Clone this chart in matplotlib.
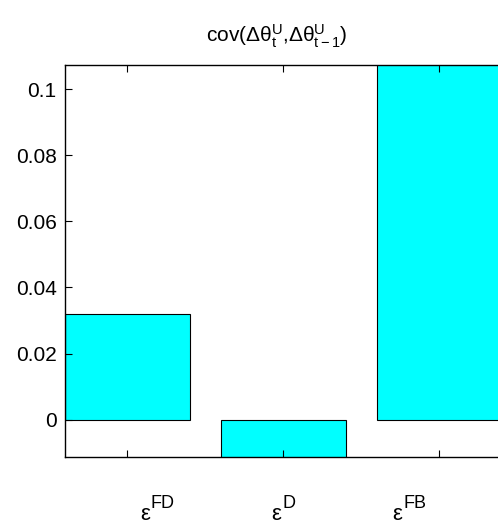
import matplotlib
matplotlib.use("Agg")
import matplotlib.pyplot as plt

plt.rcParams['font.family'] = ['Liberation Sans', 'DejaVu Sans']
plt.rcParams['mathtext.fontset'] = 'custom'
plt.rcParams['mathtext.rm'] = 'Liberation Sans'
plt.rcParams['mathtext.it'] = 'Liberation Sans'
plt.rcParams['mathtext.bf'] = 'Liberation Sans:bold'

label_base = 'ε'
label_sups = ['FD', 'D', 'FB']
positions = [1, 2, 3]
values = [0.032, -0.016, 0.125]
label_x = [1.192, 2.0, 2.808]
yticks = [0, 0.02, 0.04, 0.06, 0.08, 0.1]
ytick_labels = ['0', '0.02', '0.04', '0.06', '0.08', '0.1']

fig = plt.figure(figsize=(4.98, 5.23), dpi=100)
ax_w_px = 1.02 * 498 - 65
ax = fig.add_axes([65/498, 66/523, ax_w_px/498, 392/523])

ax.bar(positions, values, width=0.8, color='#00FFFF', edgecolor='black', linewidth=0.8)
ax.set_xlim(0.6, 0.6 + ax_w_px/156)
ax.set_ylim(-0.0113, 0.1073)
ax.set_xticks(positions)
ax.set_xticklabels([])
ax.set_yticks(yticks)
ax.set_yticklabels(ytick_labels, fontsize=15)
ax.tick_params(direction='in', length=5, width=0.8, top=True, right=True, pad=6)
for s in ax.spines.values():
    s.set_linewidth(1.0)

ax.set_title(r'cov($\mathregular{\Delta\theta_t^U{,}\Delta\theta_{t-1}^U}$)', fontsize=15, pad=16,
             x=(277 - 65) / ax_w_px)

# category labels: base letter with a raised superscript, centred as a group
fig.canvas.draw()
renderer = fig.canvas.get_renderer()
px2pt = 72.0 / fig.dpi
label_y = -62.5 / 392
for x, sup in zip(label_x, label_sups):
    tb = ax.annotate(label_base, xy=(x, label_y), xycoords=ax.get_xaxis_transform(),
                     fontsize=16, ha='left', va='baseline', textcoords='offset points', xytext=(0, 0))
    ts = ax.annotate(sup, xy=(x, label_y), xycoords=ax.get_xaxis_transform(),
                     fontsize=13, ha='left', va='baseline', textcoords='offset points', xytext=(0, 0))
    wb = tb.get_window_extent(renderer).width
    ws = ts.get_window_extent(renderer).width
    total = wb + ws + 1
    tb.set_position((-total / 2 * px2pt, 0))
    ts.set_position(((-total / 2 + wb + 1) * px2pt, 12 * px2pt))

fig.savefig('out.png', dpi=100)
